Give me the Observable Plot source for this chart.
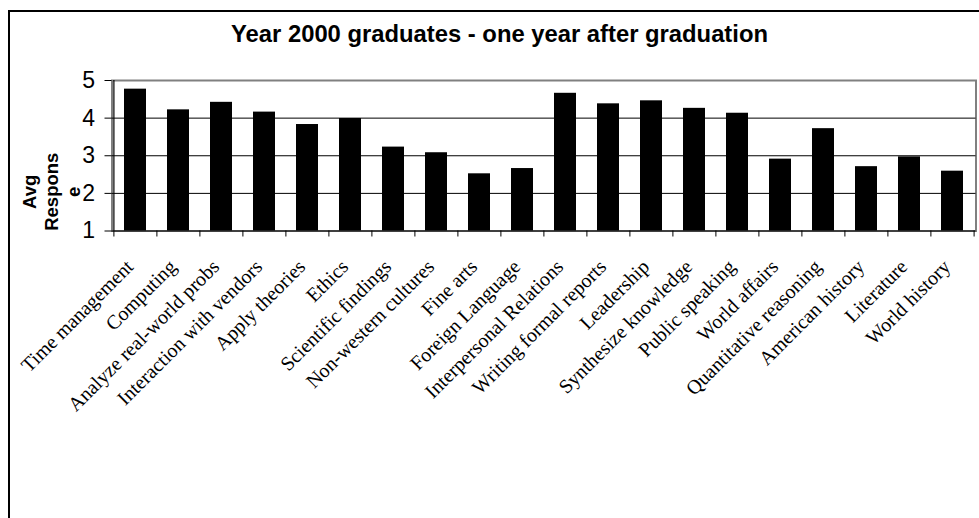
<!DOCTYPE html>
<html>
<head>
<meta charset="utf-8">
<script src="https://cdn.jsdelivr.net/npm/d3@7"></script>
<script src="https://cdn.jsdelivr.net/npm/@observablehq/plot@0.6"></script>
<style>
  html, body { margin: 0; padding: 0; background: #fff; }
  #wrap { position: relative; width: 979px; height: 518px; overflow: hidden; }
  #wrap svg { position: absolute; left: 0; top: 0; }
  #border {
    position: absolute; left: 8px; top: 10px; right: -10px; bottom: -10px;
    border-left: 2px solid #000; border-top: 2px solid #000;
    pointer-events: none;
  }
</style>
</head>
<body>
<div id="wrap"><div id="border"></div></div>
<script>
// Survey items rated by graduates one year out
const skills = [
  "Time management", "Computing", "Analyze real-world probs", "Interaction with vendors",
  "Apply theories", "Ethics", "Scientific findings", "Non-western cultures", "Fine arts",
  "Foreign Language", "Interpersonal Relations", "Writing formal reports", "Leadership",
  "Synthesize knowledge", "Public speaking", "World affairs", "Quantitative reasoning",
  "American history", "Literature", "World history"
];
// Average response for each item
const avgResponse = [
  4.77, 4.22, 4.42, 4.16, 3.83, 3.99, 3.23, 3.08, 2.52, 2.66,
  4.66, 4.38, 4.46, 4.26, 4.13, 2.91, 3.72, 2.71, 2.97, 2.59
];
const yTicks = [1, 2, 3, 4, 5];
const gridLines = [2, 3, 4];
const yMin = 1, yMax = 5;
const chartTitle = "Year 2000 graduates - one year after graduation";
// the value-axis title wraps onto three lines
const yTitleLines = ["Avg", "Respons", "e"];

const rows = skills.map((skill, i) => ({skill, value: avgResponse[i]}));

const W = 979, H = 518;
const mL = 111.5, mR = 3.5, mT = 80, mB = 287.5;
const step = (W - mL - mR) / skills.length;   // width of one category cell
const titleLineGap = 22;                      // spacing between wrapped title lines
const titleFirstBaseline = 35.5;              // x of the first line's baseline

const sans = "'Liberation Sans', Arial, sans-serif";
const serif = "'Liberation Serif', 'Times New Roman', serif";

const chart = Plot.plot({
  width: W,
  height: H,
  marginLeft: mL,
  marginRight: mR,
  marginTop: mT,
  marginBottom: mB,
  style: {background: "transparent", color: "#000", fontFamily: sans},
  x: {domain: skills, type: "band", paddingInner: 0.5, paddingOuter: 0.25, axis: null},
  y: {domain: [yMin, yMax], axis: null},
  marks: [
    // plot-area border
    Plot.frame({stroke: "#808080", strokeWidth: 2}),
    // horizontal gridlines
    Plot.ruleY(gridLines, {stroke: "#000", strokeWidth: 1}),
    // bars
    Plot.barY(rows, {x: "skill", y1: yMin, y2: "value", fill: "#000"}),
    // category axis line and value axis line
    Plot.ruleY([yMin], {stroke: "#000", strokeWidth: 1.2}),
    Plot.ruleX([skills[0]], {x: d => d, dx: -step / 2, stroke: "#000", strokeWidth: 1.2}),
    // category boundary tick marks
    Plot.axisX({ticks: skills, tickSize: 6, tickFormat: () => "", dx: -step / 2, label: null, stroke: "#000"}),
    Plot.axisX({ticks: [skills[skills.length - 1]], tickSize: 6, tickFormat: () => "", dx: step / 2, label: null, stroke: "#000"}),
    // value axis ticks and labels
    Plot.axisY({ticks: yTicks, tickSize: 7, tickPadding: 10, tickFormat: d => String(d), fontSize: 23, label: null, stroke: "#000"}),
    // rotated category labels
    Plot.text(skills, {
      x: d => d, frameAnchor: "bottom", dy: 37, dx: -1,
      rotate: -45, textAnchor: "end", lineAnchor: "bottom",
      fontSize: 20, fontFamily: serif, fill: "#000"
    }),
    // value axis title, one mark per wrapped line
    ...yTitleLines.map((line, i) => Plot.text([line], {
      frameAnchor: "left", dx: titleFirstBaseline + i * titleLineGap - mL, dy: 36, rotate: -90,
      textAnchor: "middle", lineAnchor: "bottom",
      fontSize: 18.5, fontWeight: "bold", fontFamily: sans, fill: "#000"
    })),
    // chart title
    Plot.text([chartTitle], {
      frameAnchor: "top", dx: 499 - (mL + (W - mR)) / 2, dy: 41.7 - mT,
      textAnchor: "middle", lineAnchor: "bottom",
      fontSize: 23.8, fontWeight: "bold", fontFamily: sans, fill: "#000"
    })
  ]
});

document.getElementById("wrap").insertBefore(chart, document.getElementById("border"));
</script>
</body>
</html>
